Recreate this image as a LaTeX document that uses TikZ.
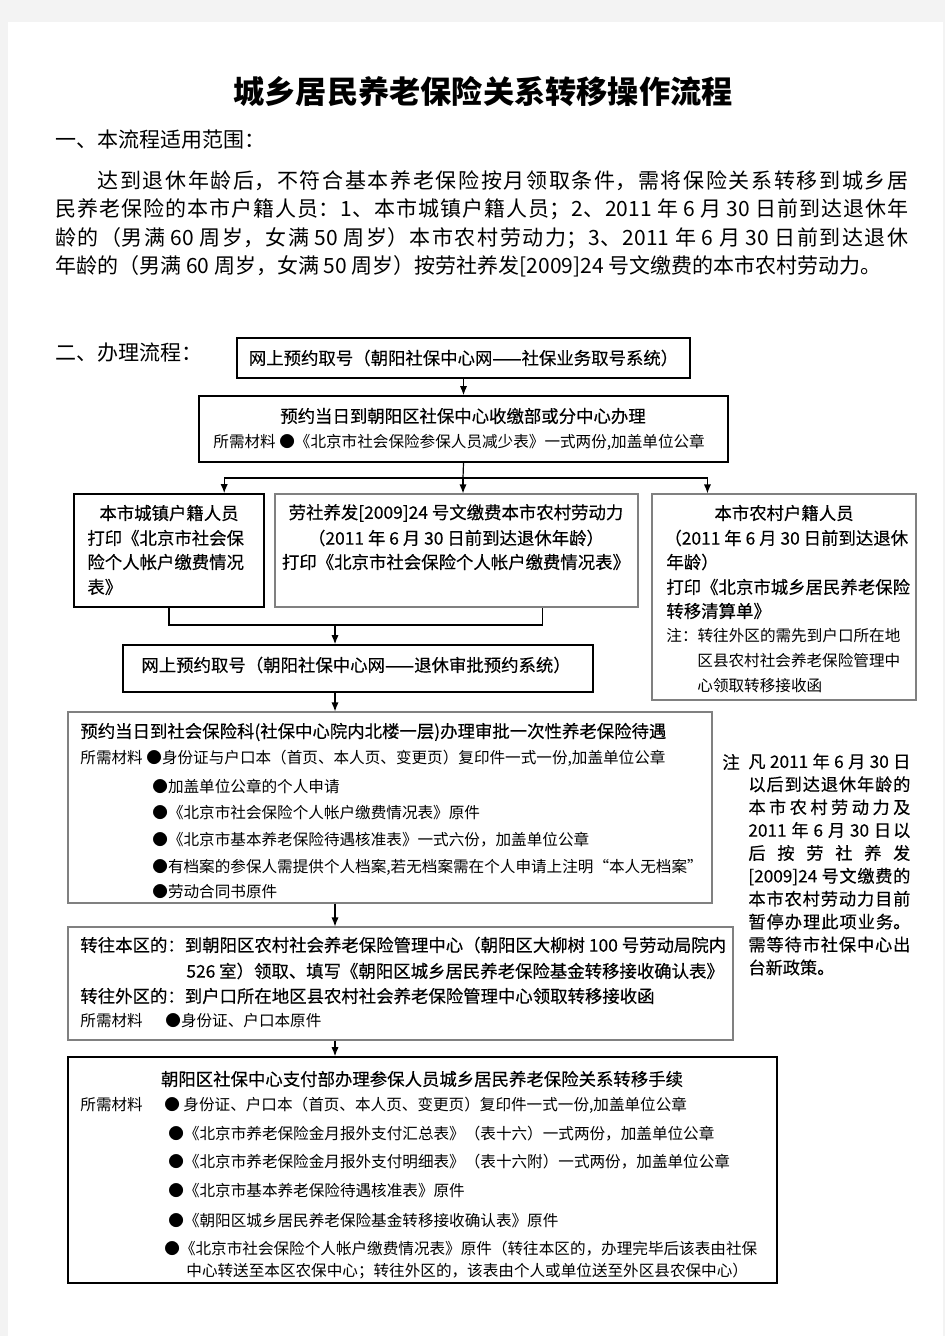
\documentclass[tikz,border=0pt]{standalone}
\usepackage{fontspec}
\setmainfont{Noto Sans CJK SC}
\newfontfamily\heiti{Noto Sans CJK SC}[FakeBold=0.3]
\usetikzlibrary{arrows.meta,fit}
\XeTeXlinebreaklocale "zh"
\XeTeXlinebreakskip=0pt plus 2pt
\XeTeXlinebreakpenalty=10000
\definecolor{pagegray}{HTML}{F3F3F3}
\definecolor{framegray}{HTML}{808080}
\tikzset{
  blackbox/.style={draw, line width=0.8pt, inner sep=0pt},
  graybox/.style={draw=framegray, line width=0.55pt, inner sep=0pt},
  btxt/.style={inner sep=0pt, font=\heiti\fontsize{8.7pt}{10pt}\selectfont},
  stxt/.style={inner sep=0pt, font=\fontsize{7.8pt}{9pt}\selectfont},
  arr/.style={-{Latex[length=4.5pt,width=3.6pt]}, line width=0.6pt}
}
\begin{document}
\begin{tikzpicture}[x=0.5pt, y=-0.5pt]
\fill[pagegray] (0,0) rectangle (945,1336);
\fill[white] (8,22) rectangle (943,1336);
\useasboundingbox (0,0) rectangle (945,1336);

% title and scope
\node[inner sep=0pt, font=\fontsize{15.6pt}{18pt}\selectfont\bfseries] (title) at (483,92) {城乡居民养老保险关系转移操作流程};
\node[anchor=west, inner sep=0pt, font=\fontsize{10.5pt}{14pt}\selectfont] (fanwei) at (55,140) {一、本流程适用范围：};
\node[anchor=north west, inner sep=0pt, text width=426.5pt, align=justify, font=\fontsize{10.5pt}{14.25pt}\selectfont] (intro) at (55,170)
{\noindent\parfillskip=0pt\hspace*{2em}达到退休年龄后，不符合基本养老保险按月领取条件，需将保险关系转移到城乡居\linebreak{}
民养老保险的本市户籍人员：1、本市城镇户籍人员；2、2011 年 6 月 30 日前到达退休年\linebreak{}
龄的（男满 60 周岁，女满 50 周岁）本市农村劳动力；3、2011 年 6 月 30 日前到达退休\linebreak{}
年龄的（男满 60 周岁，女满 50 周岁）按劳社养发[2009]24 号文缴费的本市农村劳动力。};
\node[anchor=west, inner sep=0pt, font=\fontsize{10.5pt}{14pt}\selectfont] (liucheng) at (55,353) {二、办理流程：};

% frames
\node[blackbox, fit={(237,338) (690,378)}] (yuyue1) {};
\node[blackbox, fit={(199,396) (728,462)}] (shoujiao) {};
\node[blackbox, fit={(74,494) (264,607)}] (chengzhen) {};
\node[graybox, fit={(275,494) (638,607)}] (laoshe) {};
\node[graybox, fit={(652,494) (916,700)}] (nongcun) {};
\node[blackbox, fit={(123,645) (593,692)}] (yuyue2) {};
\node[graybox, fit={(68,712) (712,903)}] (shenpi) {};
\node[graybox, fit={(68,927) (733,1040)}] (jieshou) {};
\node[blackbox, fit={(68,1057) (777,1283)}] (zhifu) {};

% box texts
\node[btxt] at (yuyue1) {网上预约取号（朝阳社保中心网——社保业务取号系统）};
\node[btxt] at (463,416) {预约当日到朝阳区社保中心收缴部或分中心办理};
\node[stxt, anchor=west] at (213,442) {所需材料 ●《北京市社会保险参保人员减少表》一式两份,加盖单位公章};

\node[btxt] at (169,513) {本市城镇户籍人员};
\node[btxt, anchor=west] at (87,538) {打印《北京市社会保};
\node[btxt, anchor=west] at (87,562) {险个人帐户缴费情况};
\node[btxt, anchor=west] at (87,587) {表》};

\node[btxt] at (456,513) {劳社养发[2009]24 号文缴费本市农村劳动力};
\node[btxt] at (456,538) {（2011 年 6 月 30 日前到达退休年龄）};
\node[btxt] at (456,562) {打印《北京市社会保险个人帐户缴费情况表》};

\node[btxt] at (784,513) {本市农村户籍人员};
\node[btxt, anchor=west] at (664,538) {（2011 年 6 月 30 日前到达退休};
\node[btxt, anchor=west] at (666,562) {年龄）};
\node[btxt, anchor=west] at (666,587) {打印《北京市城乡居民养老保险};
\node[btxt, anchor=west] at (666,611) {转移清算单》};
\node[stxt, anchor=west] at (666,636) {注：转往外区的需先到户口所在地};
\node[stxt, anchor=west] at (697,661) {区县农村社会养老保险管理中};
\node[stxt, anchor=west] at (697,686) {心领取转移接收函};

\node[btxt, anchor=west] at (141,665) {网上预约取号（朝阳社保中心网——退休审批预约系统）};

\node[btxt, anchor=west] at (80,732) {预约当日到社会保险科(社保中心院内北楼一层)办理审批一次性养老保险待遇};
\node[stxt, anchor=west] at (80,758) {所需材料};
\node[stxt, anchor=west] at (146,758) {●身份证与户口本（首页、本人页、变更页）复印件一式一份,加盖单位公章};
\foreach \y/\t in {786/{●加盖单位公章的个人申请},
                   813/{●《北京市社会保险个人帐户缴费情况表》原件},
                   840/{●《北京市基本养老保险待遇核准表》一式六份，加盖单位公章},
                   867/{●有档案的参保人需提供个人档案,若无档案需在个人申请上注明“本人无档案”},
                   892/{●劳动合同书原件}}
{
    \node[stxt, anchor=west] at (152,\y) {\t};
}

\node[btxt, anchor=west] at (80,945) {转往本区的：到朝阳区农村社会养老保险管理中心（朝阳区大柳树 100 号劳动局院内};
\node[btxt, anchor=west] at (186,971) {526 室）领取、填写《朝阳区城乡居民养老保险基金转移接收确认表》};
\node[btxt, anchor=west] at (80,996) {转往外区的：到户口所在地区县农村社会养老保险管理中心领取转移接收函};
\node[stxt, anchor=west] at (80,1021) {所需材料};
\node[stxt, anchor=west] at (165,1021) {●身份证、户口本原件};

\node[btxt] at (422,1079) {朝阳区社保中心支付部办理参保人员城乡居民养老保险关系转移手续};
\node[stxt, anchor=west] at (80,1105) {所需材料};
\node[stxt, anchor=west] at (164,1105) {● 身份证、户口本（首页、本人页、变更页）复印件一式一份,加盖单位公章};
\foreach \y/\t in {1134/{●《北京市养老保险金月报外支付汇总表》（表十六）一式两份，加盖单位公章},
                   1162/{●《北京市养老保险金月报外支付明细表》（表十六附）一式两份，加盖单位公章},
                   1191/{●《北京市基本养老保险待遇核准表》原件},
                   1221/{●《朝阳区城乡居民养老保险基金转移接收确认表》原件}}
{
    \node[stxt, anchor=west] at (168,\y) {\t};
}
\node[stxt, anchor=west] at (164,1249) {●《北京市社会保险个人帐户缴费情况表》原件（转往本区的，办理完毕后该表由社保};
\node[stxt, anchor=west] at (186,1271) {中心转送至本区农保中心；转往外区的，该表由个人或单位送至外区县农保中心）};

% side note
\node[btxt, anchor=west] (zhu) at (722,762) {注};
\node[anchor=north west, inner sep=0pt, text width=81pt, align=justify, font=\heiti\fontsize{8.6pt}{11.45pt}\selectfont] (note) at (748,753)
{\noindent 凡~2011~年~6~月~30~日\linebreak{}
以后到达退休年龄的\linebreak{}
本市农村劳动力及\linebreak{}
2011~年~6~月~30~日以\linebreak{}
后按劳社养发\linebreak{}
[2009]24~号文缴费的\linebreak{}
本市农村劳动力目前\linebreak{}
暂停办理此项业务。\linebreak{}
需等待市社保中心出\linebreak{}
台新政策。};

% connectors
\draw[arr] (yuyue1) -- (shoujiao);
\coordinate (fork) at (463,478);
\draw[line width=0.6pt] (shoujiao.south) -- (fork);
\draw[arr] (fork) -| ([xshift=75.5pt]chengzhen.north west);
\draw[arr] (fork) -- (fork |- laoshe.north);
\draw[arr] (fork) -| ([xshift=28pt]nongcun.north west);
\coordinate (merge) at (335,625);
\draw[line width=0.6pt] (chengzhen.south) |- (merge) -| ([xshift=134pt]laoshe.south west);
\draw[arr] (merge) -- (merge |- yuyue2.north);
\draw[arr] (yuyue2.south -| merge) -- (shenpi.north -| merge);
\draw[arr] (shenpi.south -| merge) -- (jieshou.north -| merge);
\draw[arr] (jieshou.south -| merge) -- (zhifu.north -| merge);

\end{tikzpicture}
\end{document}
